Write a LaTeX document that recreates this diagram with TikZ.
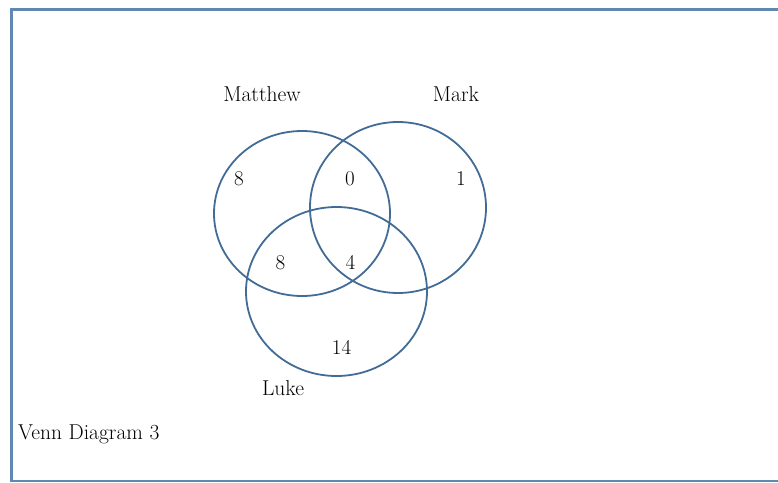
\documentclass[tikz,border=0pt]{standalone}
\usepackage{tikz}
\definecolor{vennblue}{RGB}{66,108,150}
\definecolor{framblue}{RGB}{96,136,176}

\begin{document}
\begin{tikzpicture}[x=1pt,y=-1pt,
venn/.style={vennblue,line width=1.8pt},
lbl/.style={anchor=base,inner sep=0pt,font=\fontsize{21.5}{26}\selectfont},
num/.style={inner sep=0pt,font=\fontsize{21}{25}\selectfont}]

\useasboundingbox (0,0) rectangle (778,482);
\draw[framblue,line width=2.2pt] (778,9.5) -- (11.5,9.5) -- (11.5,481) -- (778,481);

\draw[venn] (302,213.5) ellipse [x radius=88pt,y radius=82.5pt];
\draw[venn] (398,207.5) ellipse [x radius=88pt,y radius=85.5pt];
\draw[venn] (336.5,291.5) ellipse [x radius=90.5pt,y radius=84.5pt];

\node[lbl] (matthew) at (262,101.5) {Matthew};
\node[lbl] (mark) at (456,101.5) {Mark};
\node[lbl] (luke) at (283,395) {Luke};
\node[lbl,anchor=base west] (title) at (18,439) {Venn Diagram 3};

\node[num] (onlymt) at (239,179) {8};
\node[num] (mtmk) at (350,179) {0};
\node[num] (onlymk) at (461,179) {1};
\node[num] (mtlk) at (280.5,263) {8};
\node[num] (all) at (350.5,262.5) {4};
\node[num] (onlylk) at (341.5,347) {14};
\end{tikzpicture}
\end{document}
